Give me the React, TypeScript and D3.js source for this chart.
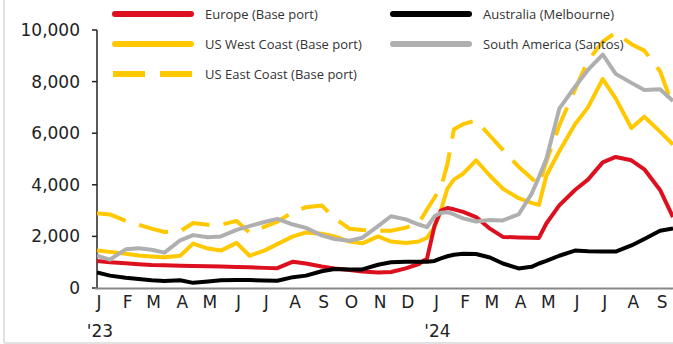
import { useEffect, useRef } from "react";
import * as d3 from "d3";

// semi-monthly readings (plus a few extra dates around the sharp moves)
const dates = [
	"2023-01-01", "2023-01-15", "2023-02-01", "2023-02-15", "2023-03-01", "2023-03-15",
	"2023-04-01", "2023-04-15", "2023-05-01", "2023-05-15", "2023-06-01", "2023-06-15",
	"2023-07-01", "2023-07-15", "2023-08-01", "2023-08-15", "2023-09-01", "2023-09-15",
	"2023-10-01", "2023-10-15", "2023-11-01", "2023-11-15", "2023-12-01", "2023-12-15",
	"2023-12-24",
	"2024-01-01", "2024-01-08", "2024-01-15", "2024-01-22", "2024-02-01", "2024-02-15",
	"2024-03-01", "2024-03-15", "2024-04-01", "2024-04-15", "2024-04-23", "2024-05-01",
	"2024-05-15", "2024-06-01", "2024-06-15", "2024-07-01", "2024-07-15", "2024-08-01",
	"2024-08-15", "2024-09-01", "2024-09-15",
];

const europe = [
	1050, 1000, 960, 920, 890, 880, 860, 850, 840, 830, 810, 800, 780, 770, 1020, 950, 830, 760,
	700, 640, 600, 620, 760, 930, 1150,
	2400, 3000, 3100, 3050, 2950, 2750, 2300, 1980, 1960, 1950, 1940, 2500, 3200, 3800, 4200,
	4870, 5080, 4950, 4600, 3800, 2750,
];
const australia = [
	600, 480, 400, 350, 300, 270, 300, 200, 250, 300, 310, 310, 290, 280, 420, 480, 650, 740,
	720, 720, 900, 1000, 1020, 1020, 1020,
	1050, 1150, 1230, 1290, 1330, 1320, 1180, 950, 760, 820, 950, 1050, 1250, 1450, 1420,
	1410, 1410, 1650, 1900, 2220, 2310,
];
const usWest = [
	1450, 1400, 1330, 1260, 1220, 1190, 1250, 1720, 1530, 1450, 1750, 1250, 1450, 1700, 2000,
	2150, 2100, 2000, 1800, 1730, 2000, 1800, 1740, 1800, 1950,
	2350, 3020, 3850, 4200, 4430, 4950, 4350, 3850, 3480, 3300, 3220, 4350, 5300, 6350, 7000,
	8100, 7350, 6200, 6640, 6060, 5560,
];
const southAmerica = [
	1250, 1100, 1500, 1540, 1480, 1370, 1850, 2050, 1970, 2000, 2250, 2400, 2560, 2680, 2460,
	2330, 2040, 1900, 1830, 1950, 2400, 2780, 2660, 2460, 2360,
	2780, 2920, 2940, 2850, 2700, 2580, 2640, 2620, 2850, 3650, 4300, 5000, 6950, 7800, 8450,
	9050, 8300, 7950, 7670, 7700, 7250,
];
const usEast = [
	2900, 2850, 2600, 2450, 2300, 2170, 2200, 2520, 2450, 2450, 2600, 2150, 2370, 2570, 2950,
	3130, 3200, 2700, 2300, 2250, 2220, 2220, 2340, 2500, 3050,
	3500, 3900, 4800, 6150, 6350, 6500, 5900, 5350, 4700, 4250, 4000, 4900, 6300, 7700, 8800,
	9550, 9900, 9450, 9200, 8400, 7050,
];

const yTicks = [0, 2000, 4000, 6000, 8000, 10000];
const yearLabels = ["'23", "'24"];

const series = [
	{ name: "US East Coast (Base port)", values: usEast, color: "#FFC800", dash: true, col: 0, row: 2 },
	{ name: "US West Coast (Base port)", values: usWest, color: "#FFC800", dash: false, col: 0, row: 1 },
	{ name: "Europe (Base port)", values: europe, color: "#DD1020", dash: false, col: 0, row: 0 },
	{ name: "Australia (Melbourne)", values: australia, color: "#000000", dash: false, col: 1, row: 0 },
	{ name: "South America (Santos)", values: southAmerica, color: "#AFAFAF", dash: false, col: 1, row: 1 },
];

export default function App() {
	const ref = useRef<HTMLDivElement>(null);

	useEffect(() => {
		if (!ref.current) return;
		d3.select(ref.current).selectAll("svg").remove();

		const width = 673;
		const height = 344;
		const parse = d3.timeParse("%Y-%m-%d");
		const dts = dates.map((d) => parse(d) as Date);

		const x = d3
			.scaleTime()
			.domain([new Date(2023, 0, 1), new Date(2024, 8, 15)])
			.range([97, 673]);
		const y = d3.scaleLinear().domain([0, 10000]).range([288, 30]);

		const svg = d3
			.select(ref.current)
			.append("svg")
			.attr("width", width)
			.attr("height", height)
			.style("position", "absolute")
			.style("left", "0px")
			.style("top", "0px")
			.style("background", "#fff");

		// faint frame at left and bottom
		svg.append("line").attr("x1", 4).attr("x2", 4).attr("y1", 0).attr("y2", 343)
			.attr("stroke", "#e2e2e2").attr("stroke-width", 2);
		svg.append("line").attr("x1", 4).attr("x2", width).attr("y1", 343).attr("y2", 343)
			.attr("stroke", "#e2e2e2").attr("stroke-width", 2);

		// y axis
		const yAxis = svg.append("g");
		yAxis.append("line").attr("x1", 97).attr("x2", 97).attr("y1", y(10000)).attr("y2", y(0))
			.attr("stroke", "#222").attr("stroke-width", 1.5);
		yAxis.selectAll(".tk").data(yTicks).join("line")
			.attr("x1", 92).attr("x2", 97)
			.attr("y1", (d) => y(d)).attr("y2", (d) => y(d))
			.attr("stroke", "#222").attr("stroke-width", 1.5);
		yAxis.selectAll("text").data(yTicks).join("text")
			.attr("x", 80).attr("y", (d) => y(d))
			.attr("text-anchor", "end").attr("dominant-baseline", "central")
			.attr("font-family", "DejaVu Sans").attr("font-size", 17).attr("fill", "#222")
			.text((d) => d3.format(",")(d));

		// x axis
		svg.append("line").attr("x1", 95).attr("x2", width).attr("y1", 288.5).attr("y2", 288.5)
			.attr("stroke", "#888").attr("stroke-width", 2);
		const months = d3.timeMonth.range(new Date(2023, 0, 1), new Date(2024, 8, 2));
		svg.append("g").selectAll("text").data(months).join("text")
			.attr("x", (d) => x(d) + 2).attr("y", 308)
			.attr("text-anchor", "middle")
			.attr("font-family", "DejaVu Sans").attr("font-size", 17).attr("fill", "#222")
			.text((d) => d3.timeFormat("%b")(d)[0]);
		const jans = months.filter((d) => d.getMonth() === 0);
		svg.append("g").selectAll("text").data(jans).join("text")
			.attr("x", (d) => x(d) + 3).attr("y", 337)
			.attr("text-anchor", "middle")
			.attr("font-family", "DejaVu Sans").attr("font-size", 17).attr("fill", "#222")
			.text((d, i) => yearLabels[i]);

		// lines
		svg.append("clipPath").attr("id", "plot").append("rect")
			.attr("x", 97).attr("y", 0).attr("width", width - 97).attr("height", 289);
		const line = d3.line<number>()
			.x((d, i) => x(dts[i]))
			.y((d) => y(d));
		svg.append("g").attr("clip-path", "url(#plot)")
			.selectAll("path").data(series).join("path")
			.attr("d", (s) => line(s.values))
			.attr("fill", "none")
			.attr("stroke", (s) => s.color)
			.attr("stroke-width", 4)
			.attr("stroke-linejoin", "round")
			.attr("stroke-dasharray", (s) => (s.dash ? "30 14" : null));

		// legend
		const colX = [113, 391];
		const rowY = [14, 44, 74];
		const leg = svg.append("g").selectAll("g").data(series).join("g")
			.attr("transform", (s) => `translate(${colX[s.col]},${rowY[s.row]})`);
		leg.append("line").attr("y1", 0).attr("y2", 0)
			.attr("stroke", (s) => s.color).attr("stroke-width", 6)
			.attr("stroke-linecap", (s) => (s.dash ? "butt" : "round"))
			.attr("stroke-dasharray", (s) => (s.dash ? "32 15" : null))
			.attr("x1", (s) => (s.dash ? 0 : 2))
			.attr("x2", (s) => (s.dash ? 80 : 78));
		leg.append("text").attr("x", 92).attr("y", 0)
			.attr("dominant-baseline", "central")
			.attr("font-family", "Open Sans").attr("font-size", 13).attr("fill", "#333")
			.text((s) => s.name);
	}, []);

	return <div ref={ref}></div>;
}
